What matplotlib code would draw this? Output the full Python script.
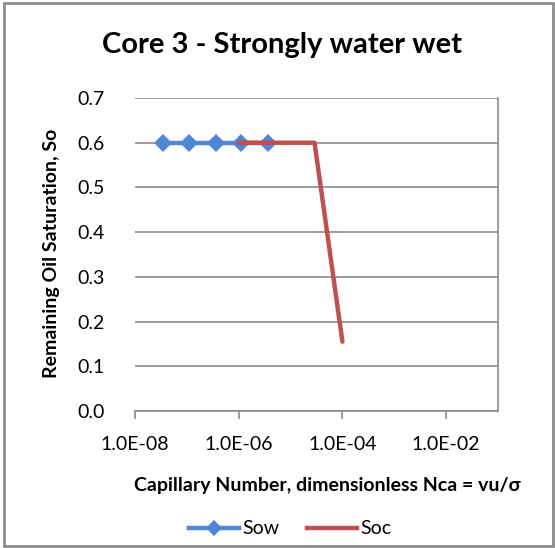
import matplotlib
matplotlib.use("Agg")
import matplotlib.pyplot as plt
from matplotlib.lines import Line2D
from matplotlib.patches import Rectangle
from matplotlib import font_manager as fm
import os

plt.rcParams['font.family'] = ['Lato', 'DejaVu Sans']

title = "Core 3 - Strongly water wet"
xlabel = "Capillary Number, dimensionless Nca = vu/σ"
ylabel = "Remaining Oil Saturation, So"

sow_x = [3.5e-8, 1.1e-7, 3.6e-7, 1.1e-6, 3.7e-6]
sow_y = [0.6, 0.6, 0.6, 0.6, 0.6]
soc_x = [1.0e-6, 2.9e-5, 1.0e-4]
soc_y = [0.6, 0.6, 0.155]

xticks = [1e-8, 1e-6, 1e-4, 1e-2]
xticklabels = ["1.0E-08", "1.0E-06", "1.0E-04", "1.0E-02"]
yticks = [0.0, 0.1, 0.2, 0.3, 0.4, 0.5, 0.6, 0.7]
yticklabels = ["0.0", "0.1", "0.2", "0.3", "0.4", "0.5", "0.6", "0.7"]

# find a real bold Lato face
bold_fp = None
for f in fm.findSystemFonts():
    b = os.path.basename(f).lower()
    if b in ("lato-bold.ttf", "lato-bold.otf"):
        bold_fp = fm.FontProperties(fname=f)
        break
if bold_fp is None:
    bold_fp = fm.FontProperties(family=['Lato', 'DejaVu Sans'], weight='bold')

def bold(size):
    p = bold_fp.copy()
    p.set_size(size)
    return p

W, H = 555, 548
fig = plt.figure(figsize=(W / 100, H / 100), dpi=100)
ax = fig.add_axes([135 / W, 1 - 411 / H, (498 - 135) / W, (411 - 98) / H])

grid_c = '#8c8c8c'
tick_fs = 14
ax.set_xscale('log')
ax.set_xlim(1e-8, 1e-1)
ax.set_ylim(0, 0.7)
ax.set_yticks(yticks)
ax.set_yticklabels(yticklabels)
ax.set_xticks(xticks)
ax.set_xticklabels(xticklabels)
ax.xaxis.set_minor_locator(matplotlib.ticker.NullLocator())
ax.yaxis.grid(True, color=grid_c, linewidth=1.2)
ax.set_axisbelow(True)
for s in ['top', 'left']:
    ax.spines[s].set_visible(False)
for s in ['right', 'bottom']:
    ax.spines[s].set_color(grid_c)
    ax.spines[s].set_linewidth(1.2)
ax.tick_params(axis='x', direction='out', length=6, color=grid_c, width=1.2,
               labelsize=tick_fs, pad=12)
ax.tick_params(axis='y', length=0, labelsize=tick_fs, pad=22)

ax.plot(sow_x, sow_y, color='#4f86d6', linewidth=3.2, marker='D',
        markersize=9.5, markeredgewidth=0, label='Sow', zorder=3)
ax.plot(soc_x, soc_y, color='#c0504d', linewidth=3.2, label='Soc', zorder=4,
        solid_capstyle='round')

fig.text(282 / W, 1 - 45 / H, title, ha='center', va='center',
         fontproperties=bold(21))
fig.text(327 / W, 1 - 486 / H, xlabel, ha='center', va='center',
         fontproperties=bold(14))
fig.text(52 / W, 1 - 253 / H, ylabel, ha='center', va='center',
         fontproperties=bold(14), rotation=90)

handles = [Line2D([], [], color='#4f86d6', linewidth=3.2, marker='D',
                  markersize=8, markeredgewidth=0),
           Line2D([], [], color='#c0504d', linewidth=3.2)]
fig.legend(handles, ['Sow', 'Soc'], loc='center', ncol=2,
           bbox_to_anchor=(290 / W, 1 - 529 / H), frameon=False,
           fontsize=tick_fs, handlelength=2.6, handletextpad=0.15,
           columnspacing=1.4)

fig.patches.append(Rectangle((0.008, 0.004), 0.988, 0.99,
                             transform=fig.transFigure, fill=False,
                             edgecolor='#8c8c8c', linewidth=2))

fig.savefig('out.png', dpi=100)
